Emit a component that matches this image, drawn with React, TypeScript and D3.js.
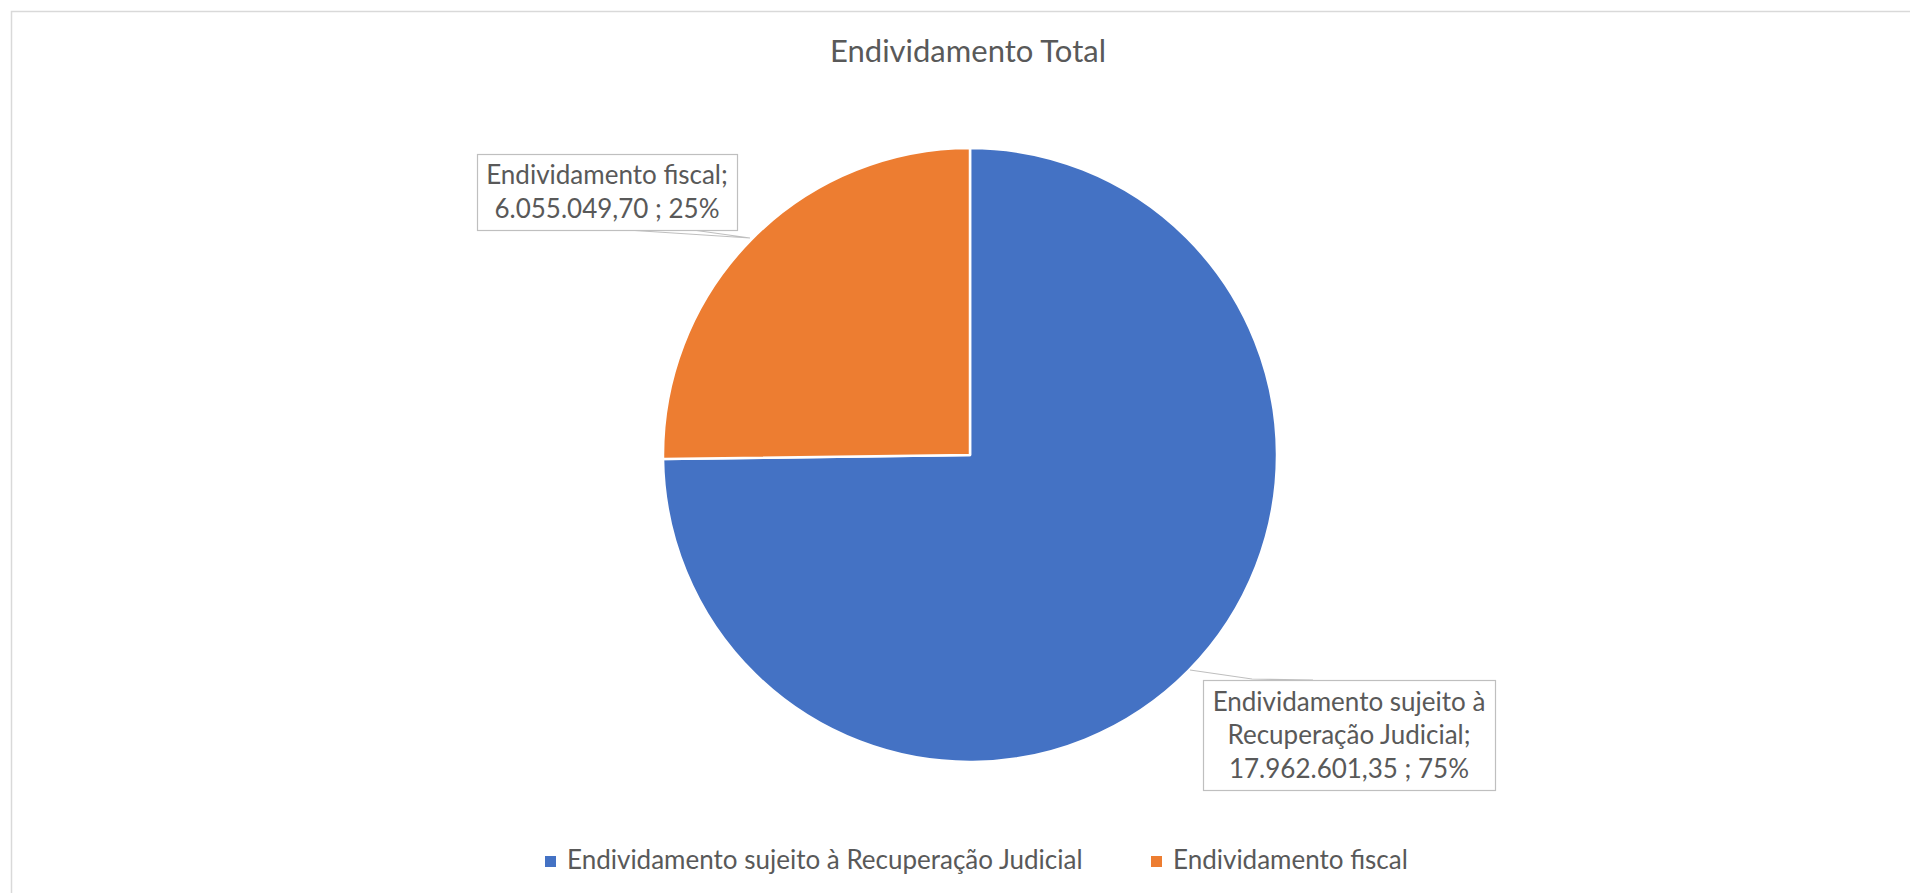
import React, {useEffect, useRef} from 'react';
import * as d3 from 'd3';

// chart data
const categories: string[] = ["Endividamento sujeito à Recuperação Judicial", "Endividamento fiscal"];
const values: number[] = [17962601.35, 6055049.70];
const valueLabels: string[] = ["17.962.601,35", "6.055.049,70"];
const colors: string[] = ["#4472C4", "#ED7D31"];

const App = () => {
  const ref = useRef<SVGSVGElement>(null);

  useEffect(() => {
    document.body.style.margin = "0";
    drawChart();
    return () => {
      d3.select(ref.current).selectAll("*").remove();
    };
  }, []);

  const drawChart = () => {
    const width = 1910;
    const height = 893;
    const font = "Lato, 'Open Sans', sans-serif";
    const textColor = "#595959";

    const svg = d3.select(ref.current)
      .attr("width", width)
      .attr("height", height);

    // chart area frame
    svg.append("rect")
      .attr("x", 11.5)
      .attr("y", 11.5)
      .attr("width", width)
      .attr("height", height)
      .attr("fill", "white")
      .attr("stroke", "#D9D9D9")
      .attr("stroke-width", 1.5);

    svg.append("text")
      .attr("x", 968)
      .attr("y", 62)
      .attr("text-anchor", "middle")
      .attr("font-family", font)
      .attr("font-size", 31)
      .attr("fill", textColor)
      .text("Endividamento Total");

    const cx = 970, cy = 455, r = 307;
    const total = d3.sum(values);

    const pie = d3.pie<number>().sort(null).value(d => d);
    const arcs = pie(values);
    const arc = d3.arc<d3.PieArcDatum<number>>().innerRadius(0).outerRadius(r);

    const g = svg.append("g").attr("transform", `translate(${cx},${cy})`);
    g.selectAll("path.slice")
      .data(arcs)
      .enter().append("path")
      .attr("class", "slice")
      .attr("d", arc)
      .attr("fill", (_, i) => colors[i])
      .attr("stroke", "white")
      .attr("stroke-width", 2.5)
      .attr("stroke-linejoin", "round");

    // data labels (boxes placed outside, like Excel's best fit)
    const labels = [
      {lines: ["Endividamento sujeito à", "Recuperação Judicial;", `${valueLabels[0]} ; ${Math.round(values[0] / total * 100)}%`],
       box: [1203, 680, 292, 110], leader: [[1190, 670], [1252, 679], [1313, 680]]},
      {lines: ["Endividamento fiscal;", `${valueLabels[1]} ; ${Math.round(values[1] / total * 100)}%`],
       box: [477, 154, 260, 76], leader: [[627, 230], [750, 238], [693, 230]]},
    ];

    labels.forEach(l => {
      const [bx, by, bw, bh] = l.box;
      svg.append("path")
        .attr("d", d3.line()(l.leader as [number, number][]))
        .attr("fill", "none")
        .attr("stroke", "#BFBFBF")
        .attr("stroke-width", 1.2);
      svg.append("rect")
        .attr("x", bx + 0.5).attr("y", by + 0.5)
        .attr("width", bw).attr("height", bh)
        .attr("fill", "white")
        .attr("stroke", "#BFBFBF")
        .attr("stroke-width", 1.2);
      const lineH = 33.5;
      const firstBase = by + bh / 2 - (l.lines.length - 1) * lineH / 2 + 9;
      l.lines.forEach((t, i) => {
        svg.append("text")
          .attr("x", bx + bw / 2)
          .attr("y", firstBase + i * lineH)
          .attr("text-anchor", "middle")
          .attr("font-family", font)
          .attr("font-size", 26)
          .attr("fill", textColor)
          .text(t);
      });
    });

    // legend
    const legendX = [545, 1151];
    categories.forEach((c, i) => {
      svg.append("rect")
        .attr("x", legendX[i]).attr("y", 856)
        .attr("width", 11).attr("height", 11)
        .attr("fill", colors[i]);
      svg.append("text")
        .attr("x", legendX[i] + 22)
        .attr("y", 869)
        .attr("font-family", font)
        .attr("font-size", 26)
        .attr("fill", textColor)
        .text(c);
    });
  };

  return (
    <div>
      <svg ref={ref} style={{display: "block"}}></svg>
    </div>
  );
};

export default App;
